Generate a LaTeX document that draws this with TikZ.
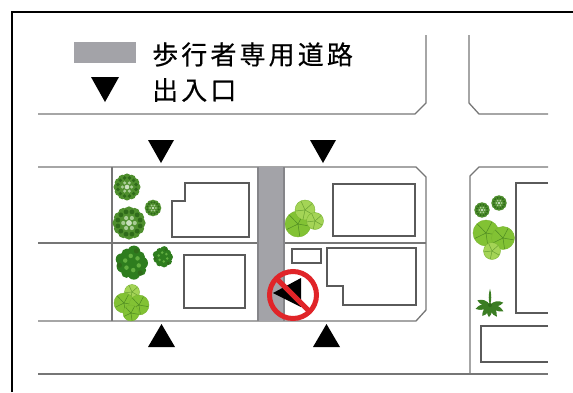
\documentclass[tikz,border=0pt]{standalone}
\usepackage{fontspec}
\newfontfamily\jp{Noto Sans CJK JP}[LetterSpace=12, FakeBold=0.4]
\definecolor{roadgray}{HTML}{767676}
\definecolor{bldggray}{HTML}{5A5A5A}
\definecolor{walkfill}{HTML}{A3A3A8}
\definecolor{walkedge}{HTML}{858589}
\definecolor{signred}{HTML}{E02428}
\definecolor{treeA}{HTML}{2F6B1A}
\definecolor{treeB}{HTML}{4F8F2E}
\definecolor{treeC}{HTML}{A8CC94}
\definecolor{treeD}{HTML}{2E7D1E}
\definecolor{treeE}{HTML}{62AE40}
\definecolor{padG}{HTML}{82C234}
\definecolor{padL}{HTML}{A4D456}
\definecolor{padEdge}{HTML}{79B530}
\definecolor{padVein}{HTML}{4E8A22}
\definecolor{palmG}{HTML}{3B7D23}
\tikzset{
  road/.style={draw=roadgray, line width=1.3pt, line join=miter},
  bldg/.style={draw=bldggray, line width=1.1pt, line join=miter},
  entrymark/.style={fill=black},
  jplabel/.style={font=\jp\fontsize{26}{30}\selectfont, anchor=west, inner sep=0pt},
  shrubpic/.pic={
    \foreach \a in {0,30,...,330} \fill[treeB] (\a:7) circle (3.4);
    \fill[treeB] (0,0) circle (7.5);
    \foreach \a in {15,45,...,345} \fill[treeA] (\a:7.2) circle (1.5);
    \foreach \a in {0,60,...,300} \fill[treeC] (\a:3.6) circle (1.3);
    \fill[treeC!60!white] (0,0) circle (1.8);
  },
  bushpic/.pic={
    \foreach \a/\d/\s in {0/6/4,40/7/3.5,80/6.5/4,120/7/3.2,160/6/4,200/7/3.6,240/6.5/3.4,280/7/4,320/6/3.5}
      \fill[treeD] (\a:\d) circle (\s);
    \fill[treeD] (0,0) circle (6.5);
    \foreach \a in {20,80,...,320} \fill[treeE] (\a:4.5) circle (1.4);
    \foreach \a in {50,170,290} \fill[treeA] (\a:8) circle (1.6);
  },
  padpic/.pic={
    \fill[padG] (0,0) circle (10);
    \draw[padEdge, line width=0.4pt] (0,0) circle (10);
    \foreach \a in {10,82,...,298} \draw[padVein, line width=0.5pt] (0,0) -- (\a:9.5);
  },
  padlpic/.pic={
    \fill[padL] (0,0) circle (10);
    \draw[padEdge, line width=0.4pt] (0,0) circle (10);
    \foreach \a in {30,102,...,318} \draw[padVein!70!padL, line width=0.5pt] (0,0) -- (\a:9.5);
  },
  palmpic/.pic={
    \foreach \a/\l in {-165/11,-125/10,-95/9,-60/10,-25/11,10/10,160/10,195/11}
      \fill[palmG, rotate=\a] (0,0) .. controls (3,-2.6) and (0.7*\l,-2.4) .. (\l,0)
                                   .. controls (0.7*\l,2.4) and (3,2.6) .. (0,0);
    \fill[palmG, rotate=90] (0,0) .. controls (3,-1.3) and (8,-1.2) .. (12,0)
                                 .. controls (8,1.2) and (3,1.3) .. (0,0);
    \fill[treeA] (0,0) circle (1.5);
  }
}
\begin{document}
\begin{tikzpicture}[x=1pt, y=-1pt]
\useasboundingbox (0,0) rectangle (573,392);

% frame
\draw[line width=2.6pt] (12,392) -- (12,12) -- (573,12);

% legend
\fill[walkfill] (74,42) rectangle (136,63);
\node[jplabel] (legwalk) at (152,54.5) {歩行者専用道路};
\fill[entrymark] (91,77) -- (119,77) -- (105,102) -- cycle;
\node[jplabel] (legdoor) at (152,90) {出入口};

% street edges
\draw[road] (38,114) -- (415,114) -- (426,103) -- (426,35);
\draw[road] (469,35) -- (469,103) -- (479,114) -- (548,114);
\draw[road] (38,167) -- (416,167) -- (426,177) -- (426,310) -- (416,321) -- (38,321);
\draw[road] (38,243) -- (258,243);
\draw[road] (284,243) -- (426,243);
\draw[road] (112,167) -- (112,321);
\draw[road] (548,167) -- (479,167) -- (470,176) -- (470,374);
\draw[road] (38,374) -- (548,374);

% pedestrian path
\fill[walkfill] (258,167) rectangle (284,321);
\draw[walkedge, line width=1.2pt] (258,167) -- (258,321);
\draw[walkedge, line width=1.2pt] (284,167) -- (284,321);

% buildings
\draw[bldg] (185,183) -- (249,183) -- (249,237) -- (172,237) -- (172,201) -- (185,201) -- cycle;
\draw[bldg] (184,255) rectangle (245,308);
\draw[bldg] (333,184) rectangle (415,236);
\draw[bldg] (292,249) rectangle (321,263);
\draw[bldg] (327,248) -- (416,248) -- (416,305) -- (343,305) -- (343,286) -- (327,286) -- cycle;
\draw[bldg] (548,183) -- (516,183) -- (516,313) -- (548,313);
\draw[bldg] (548,326) -- (481,326) -- (481,362) -- (548,362);

% entrances
\fill[entrymark] (148,140) -- (174,140) -- (161,163) -- cycle;
\fill[entrymark] (310,140) -- (336,140) -- (323,163) -- cycle;
\fill[entrymark] (148,347) -- (175,347) -- (161.5,324) -- cycle;
\fill[entrymark] (313,347) -- (340,347) -- (326.5,324) -- cycle;

% planting, west block
\pic[scale=1.3] at (127,187) {shrubpic};
\pic[scale=0.8] at (153,208) {shrubpic};
\pic[scale=1.6] at (129,223) {shrubpic};
\pic[scale=1.6] at (132,263) {bushpic};
\pic[scale=1.0] at (163,257) {bushpic};
\pic[scale=0.75] at (132,292) {padlpic};
\pic[scale=1.0] at (124,303) {padpic};
\pic[scale=1.0] at (139,305) {padpic};
\pic[scale=0.8] at (131,313) {padpic};

% planting, east of path
\pic[scale=1.3] at (298,224) {padpic};
\pic[scale=1.0] at (305,210) {padlpic};
\pic[scale=0.85] at (315,221) {padlpic};

% planting, east block
\pic[scale=0.75] at (482,210) {shrubpic};
\pic[scale=0.75] at (499,203) {shrubpic};
\pic[scale=1.3] at (486,233) {padpic};
\pic[scale=1.15] at (503,238) {padpic};
\pic[scale=0.85] at (492,251) {padlpic};
\pic[scale=1.35] at (490,305) {palmpic};

% no-entry sign
\fill[entrymark] (273,293) -- (301,278) -- (301,307) -- cycle;
\draw[signred, line width=5pt] (293,295) circle (23.5);
\draw[signred, line width=5pt] (276.4,278.4) -- (309.6,311.6);
\end{tikzpicture}
\end{document}
